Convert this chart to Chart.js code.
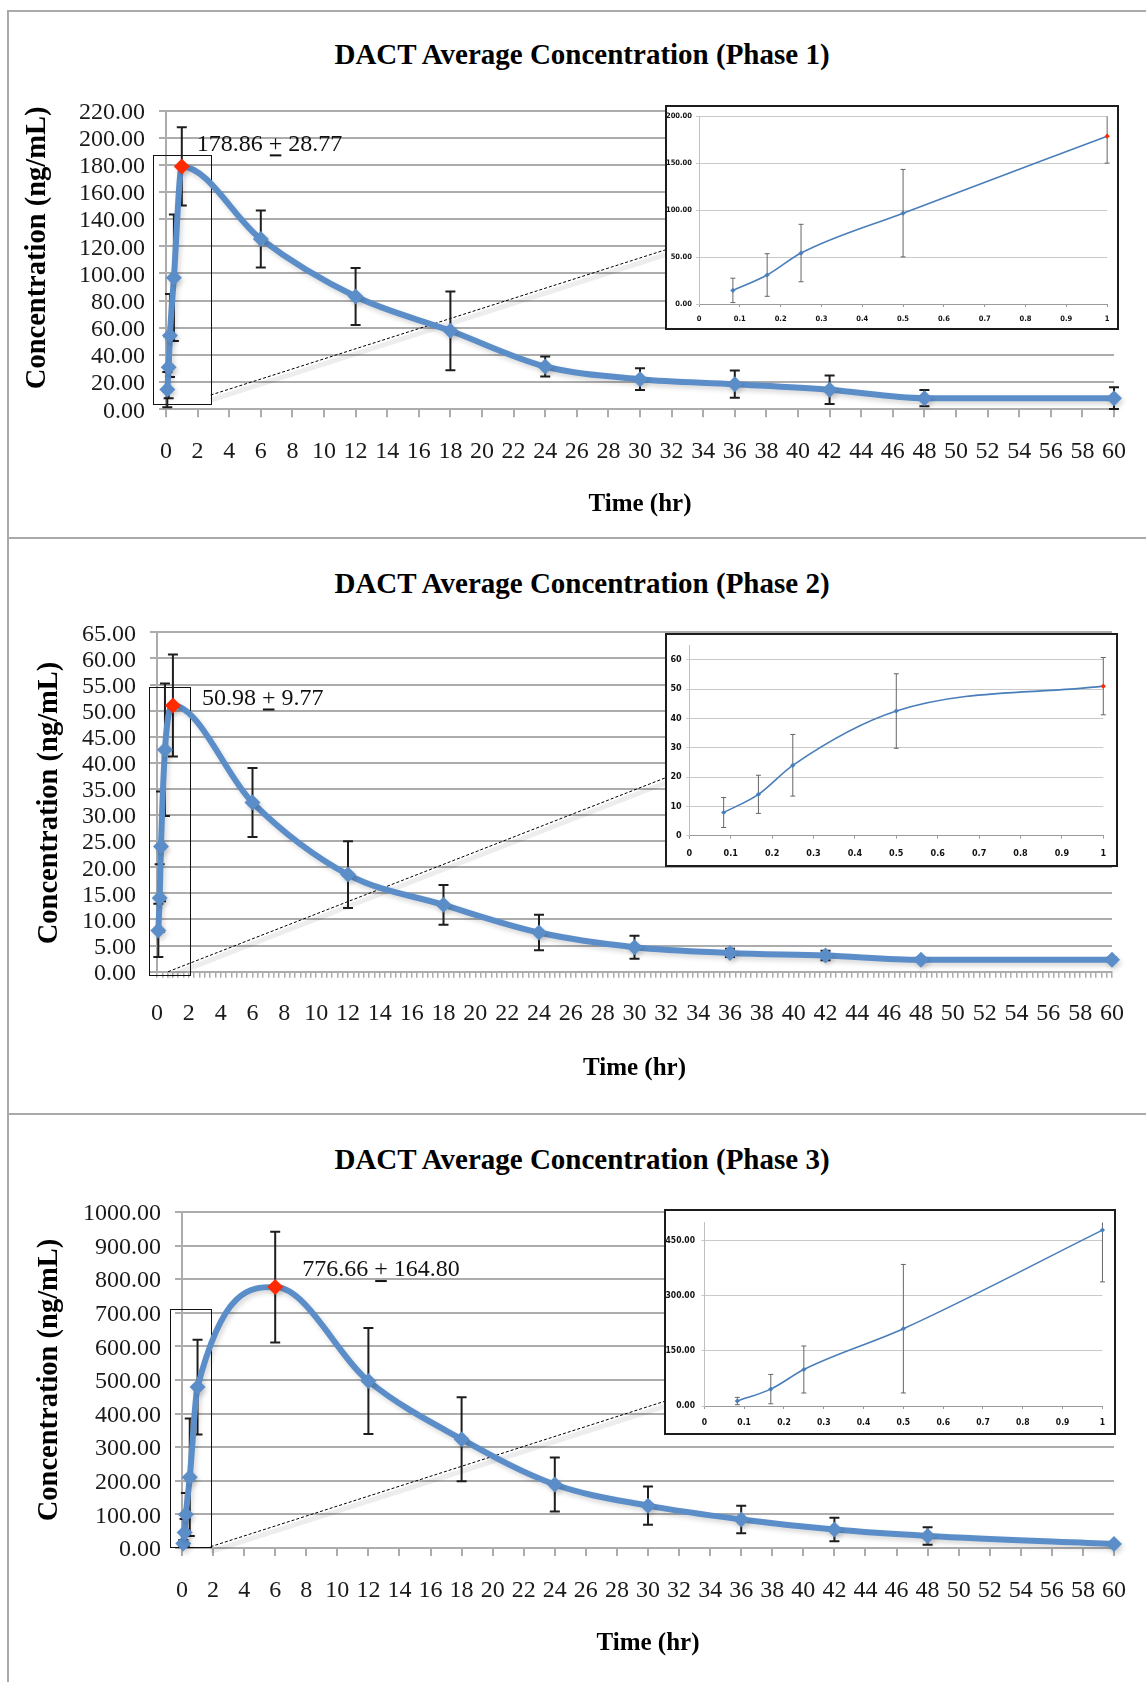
<!DOCTYPE html>
<html>
<head>
<meta charset="utf-8">
<script src="https://cdn.jsdelivr.net/npm/chart.js@4.4.0/dist/chart.umd.min.js"></script>
<style>
  html, body { margin: 0; padding: 0; background: #fff; }
  #page { position: relative; width: 1146px; height: 1682px; overflow: hidden; }
  .rule { position: absolute; background: #aaaaaa; }
  .title { position: absolute; left: 282px; width: 600px; text-align: center;
           font: bold 29px "Liberation Serif", serif; line-height: 34px; color: #000; }
  .main { position: absolute; left: 0; }
  .inset { position: absolute; box-sizing: border-box; border: 2px solid #1c1c1c; background: #fff; }
  .inset canvas { display: block; }
</style>
</head>
<body>
<div id="page">
  <div class="rule" style="left:7px;top:10px;width:1139px;height:2px"></div>
  <div class="rule" style="left:7px;top:10px;width:2px;height:1672px"></div>
  <div class="rule" style="left:7px;top:537px;width:1139px;height:2px"></div>
  <div class="rule" style="left:7px;top:1113px;width:1139px;height:2px"></div>

  <div class="title" style="top:37px">DACT Average Concentration (Phase 1)</div>
  <div class="title" style="top:566px">DACT Average Concentration (Phase 2)</div>
  <div class="title" style="top:1142px">DACT Average Concentration (Phase 3)</div>

  <canvas id="main1" class="main" width="1146" height="460" style="top:70px"></canvas>
  <canvas id="main2" class="main" width="1146" height="495" style="top:600px"></canvas>
  <canvas id="main3" class="main" width="1146" height="490" style="top:1180px"></canvas>

  <div class="inset" id="box1" style="left:665px;top:105px;width:454px;height:225px"><canvas id="inset1" width="450" height="221"></canvas></div>
  <div class="inset" id="box2" style="left:665px;top:633px;width:453px;height:234px"><canvas id="inset2" width="449" height="230"></canvas></div>
  <div class="inset" id="box3" style="left:664px;top:1209px;width:452px;height:226px"><canvas id="inset3" width="448" height="222"></canvas></div>
</div>

<script>
// sampling times (hr)
const times = [0.083, 0.167, 0.25, 0.5, 1, 6, 12, 18, 24, 30, 36, 42, 48, 60];

// mean concentration and SD (ng/mL)
const phase1Mean = [14.5, 30.9, 54.3, 96.8, 178.86, 125.4, 83.0, 57.8, 31.5, 22.2, 18.5, 14.4, 8.2, 8.2];
const phase1Sd   = [13.0, 22.7, 30.6, 46.6, 28.77, 21.0, 21.0, 29.0, 7.4, 8.0, 10.0, 10.5, 6.0, 8.0];

const phase2Mean = [7.9, 14.1, 24.0, 42.5, 50.98, 32.4, 18.6, 12.8, 7.5, 4.7, 3.6, 3.1, 2.3, 2.3];
const phase2Sd   = [5.1, 6.5, 10.5, 12.7, 9.77, 6.6, 6.4, 3.8, 3.4, 2.2, 0.8, 0.9, 0.4, 0.4];

const phase3Mean = [13.6, 46, 99.4, 210.5, 479, 776.66, 497, 324, 189, 126, 85, 55, 36, 12];
const phase3Sd   = [10, 40, 64, 175, 141, 164.80, 158, 125, 80, 57, 41, 35, 26, 0];

const BLUE = '#5b8ec9';
const RED = '#ff2a00';
const GRID = '#acacac';
const SERIF = '"Liberation Serif", serif';
const SANS = '"Liberation Sans Narrow", "DejaVu Sans Condensed", "Liberation Sans", sans-serif';

function errorBars(sd, opts) {
  return {
    id: 'errorBars',
    beforeDatasetsDraw(chart) {
      const { ctx, chartArea } = chart;
      const ys = chart.scales.y;
      const meta = chart.getDatasetMeta(0);
      const data = chart.data.datasets[0].data;
      ctx.save();
      if (opts.clip) {
        ctx.beginPath();
        ctx.rect(chartArea.left - 10, chartArea.top, chartArea.width + 20, chartArea.height);
        ctx.clip();
      }
      ctx.strokeStyle = opts.color;
      ctx.lineWidth = opts.width;
      meta.data.forEach((pt, i) => {
        if (!sd[i]) return;
        const top = ys.getPixelForValue(data[i].y + sd[i]);
        const bot = ys.getPixelForValue(data[i].y - sd[i]);
        ctx.beginPath();
        ctx.moveTo(pt.x, top); ctx.lineTo(pt.x, bot);
        ctx.moveTo(pt.x - opts.cap, top); ctx.lineTo(pt.x + opts.cap, top);
        ctx.moveTo(pt.x - opts.cap, bot); ctx.lineTo(pt.x + opts.cap, bot);
        ctx.stroke();
      });
      ctx.restore();
    }
  };
}

function lineShadow() {
  return {
    id: 'lineShadow',
    beforeDatasetDraw(chart) {
      const ctx = chart.ctx;
      ctx.save();
      ctx.shadowColor = 'rgba(0,0,0,0.16)';
      ctx.shadowBlur = 5;
      ctx.shadowOffsetX = 2;
      ctx.shadowOffsetY = 3;
    },
    afterDatasetDraw(chart) {
      chart.ctx.restore();
    }
  };
}

// rotated y-axis title, centred on the plot with a small vertical nudge
function yTitle(text, cx, shift) {
  return {
    id: 'yTitle',
    afterDraw(chart) {
      const { ctx, chartArea } = chart;
      ctx.save();
      ctx.translate(cx, (chartArea.top + chartArea.bottom) / 2 + shift);
      ctx.rotate(-Math.PI / 2);
      ctx.font = 'bold 28.5px ' + SERIF;
      ctx.fillStyle = '#000';
      ctx.textAlign = 'center';
      ctx.textBaseline = 'middle';
      ctx.fillText(text, 0, 0);
      ctx.restore();
    }
  };
}

// zoom rectangle around the first hour plus the dashed connector to the inset
function zoomGuide(g) {
  return {
    id: 'zoomGuide',
    beforeDatasetsDraw(chart) {
      const { ctx, scales: { x, y } } = chart;
      const l = x.getPixelForValue(g.box[0]), r = x.getPixelForValue(g.box[1]);
      const b = y.getPixelForValue(g.box[2]), t = y.getPixelForValue(g.box[3]);
      ctx.save();
      ctx.strokeStyle = '#111';
      ctx.lineWidth = 1;
      ctx.strokeRect(Math.round(l) + 0.5, Math.round(t) + 0.5, Math.round(r - l), Math.round(b - t));

      const inset = document.getElementById(g.inset);
      const ex = inset.offsetLeft - chart.canvas.offsetLeft;
      const ey = y.getPixelForValue(g.endY);
      const sx = x.getPixelForValue(g.start[0]), sy = y.getPixelForValue(g.start[1]);
      ctx.strokeStyle = 'rgba(0,0,0,0.07)';
      ctx.lineWidth = 5;
      ctx.beginPath(); ctx.moveTo(sx, sy + 5); ctx.lineTo(ex, ey + 5); ctx.stroke();
      ctx.setLineDash([3, 2]);
      ctx.strokeStyle = '#000';
      ctx.lineWidth = 1;
      ctx.beginPath(); ctx.moveTo(sx, sy); ctx.lineTo(ex, ey); ctx.stroke();
      ctx.restore();
    }
  };
}

function peakLabel(mean, sd, dx, dy) {
  return {
    id: 'peakLabel',
    afterDatasetsDraw(chart) {
      const i = mean.indexOf(Math.max(...mean));
      const pt = chart.getDatasetMeta(0).data[i];
      const ctx = chart.ctx;
      ctx.save();
      ctx.font = '24px ' + SERIF;
      ctx.fillStyle = '#111';
      ctx.textBaseline = 'middle';
      const a = mean[i].toFixed(2) + ' ', p = '+', c = ' ' + sd[i].toFixed(2);
      let x = pt.x + dx;
      const y = pt.y + dy;
      ctx.fillText(a, x, y);
      x += ctx.measureText(a).width;
      const pw = ctx.measureText(p).width;
      ctx.fillText(p, x, y);
      ctx.fillRect(x + 1, y + 10, pw - 2, 2);
      x += pw;
      ctx.fillText(c, x, y);
      ctx.restore();
    }
  };
}

function mainChart(id, mean, sd, c) {
  const peak = mean.indexOf(Math.max(...mean));
  const colors = mean.map((v, i) => i === peak ? RED : BLUE);
  const xTicks = {
    font: { family: SERIF, size: 24 }, color: '#1a1a1a',
    padding: c.minor ? 22 : 20, maxRotation: 0, minRotation: 0, autoSkip: false
  };
  if (c.minor) {
    xTicks.callback = v => Math.abs(v / 2 - Math.round(v / 2)) < 1e-6 ? String(Math.round(v)) : '';
  } else {
    xTicks.stepSize = 2;
  }
  return new Chart(document.getElementById(id), {
    type: 'line',
    data: {
      datasets: [{
        data: times.map((t, i) => ({ x: t, y: mean[i] })),
        borderColor: BLUE,
        borderWidth: 6,
        pointStyle: 'rectRot',
        pointRadius: 8,
        pointBackgroundColor: colors,
        pointBorderColor: colors,
        pointBorderWidth: 0,
        cubicInterpolationMode: 'monotone',
        clip: false
      }]
    },
    options: {
      responsive: false,
      animation: false,
      events: [],
      layout: { padding: { left: 0, right: c.padRight, top: c.padTop, bottom: 0 } },
      plugins: { legend: { display: false }, tooltip: { enabled: false } },
      scales: {
        x: {
          type: 'linear', min: 0, max: 60,
          afterBuildTicks: c.minor ? (s => { s.ticks = Array.from({ length: 181 }, (_, k) => ({ value: k / 3 })); }) : undefined,
          afterFit: s => { s.height = c.xHeight; },
          ticks: xTicks,
          grid: { drawOnChartArea: false, drawTicks: true, tickLength: c.minor ? 6 : 8, color: GRID, lineWidth: c.minor ? 1.5 : 2 },
          border: { display: true, color: GRID, width: 2 },
          title: {
            display: true, text: 'Time (hr)', color: '#000',
            font: { family: SERIF, size: 25, weight: 'bold' },
            padding: { top: 0, bottom: c.xTitlePad }
          }
        },
        y: {
          min: 0, max: c.yMax,
          afterFit: s => { s.width = c.yWidth; },
          ticks: {
            stepSize: c.yStep, autoSkip: false, font: { family: SERIF, size: 24 }, color: '#1a1a1a', padding: 14,
            labelOffset: 2,
            callback: v => v.toFixed(2)
          },
          grid: { color: GRID, lineWidth: 2, tickLength: 7 },
          border: { display: true, color: GRID, width: 2 }
        }
      }
    },
    plugins: [
      zoomGuide(c.guide),
      errorBars(sd, { color: '#1e1e1e', width: 2, cap: 5, clip: false }),
      lineShadow(),
      peakLabel(mean, sd, c.labelDx, c.labelDy),
      yTitle('Concentration (ng/mL)', c.yTitleX, c.yTitleShift)
    ]
  });
}

function insetChart(id, mean, sd, c) {
  const n = times.filter(t => t <= 1).length;
  const peak = mean.indexOf(Math.max(...mean));
  const colors = mean.slice(0, n).map((v, i) => i === peak ? RED : '#4a7ebb');
  return new Chart(document.getElementById(id), {
    type: 'line',
    data: {
      datasets: [{
        data: times.slice(0, n).map((t, i) => ({ x: t, y: mean[i] })),
        borderColor: '#4a7ebb',
        borderWidth: 1.6,
        pointStyle: 'rectRot',
        pointRadius: 2.6,
        pointBackgroundColor: colors,
        pointBorderColor: colors,
        pointBorderWidth: 0,
        cubicInterpolationMode: 'monotone',
        clip: false
      }]
    },
    options: {
      responsive: false,
      animation: false,
      events: [],
      layout: { padding: { left: 0, right: c.padRight, top: c.padTop, bottom: 0 } },
      plugins: { legend: { display: false }, tooltip: { enabled: false } },
      scales: {
        x: {
          type: 'linear', min: 0, max: 1,
          afterFit: s => { s.height = c.xHeight; },
          ticks: {
            stepSize: 0.1, font: { family: SANS, size: c.font, weight: 'bold' }, color: '#111', padding: c.xPad,
            maxRotation: 0, autoSkip: false,
            callback: v => String(Number(v.toFixed(1)))
          },
          grid: { drawOnChartArea: false, tickLength: 3, color: '#9a9a9a', lineWidth: 1 },
          border: { display: true, color: '#9a9a9a', width: 1 }
        },
        y: {
          min: 0, max: c.yMax,
          afterFit: s => { s.width = c.yWidth; },
          afterBuildTicks: s => { s.ticks = s.ticks.filter(t => t.value % c.yStep === 0); },
          ticks: {
            stepSize: c.yStep, autoSkip: false, font: { family: SANS, size: c.font, weight: 'bold' }, color: '#111', padding: c.yPad,
            callback: v => c.decimals ? v.toFixed(2) : String(v)
          },
          grid: { color: '#c9c9c9', lineWidth: 1, tickLength: 3 },
          border: { display: true, color: '#c0c0c0', width: 1 }
        }
      }
    },
    plugins: [errorBars(sd, { color: '#666', width: 1, cap: 2.5, clip: true })]
  });
}

mainChart('main1', phase1Mean, phase1Sd, {
  padTop: 40.5, padRight: 32, xHeight: 120.7, yWidth: 166, yMax: 220, yStep: 20,
  xTitlePad: 10, yTitleX: 37.6, yTitleShift: -12, labelDx: 15, labelDy: -22,
  guide: { box: [-0.82, 2.83, 3.9, 187.3], start: [2.83, 10.5], endY: 117.3, inset: 'box1' }
});
mainChart('main2', phase2Mean, phase2Sd, {
  padTop: 32.3, padRight: 27, xHeight: 123.3, yWidth: 157, yMax: 65, yStep: 5, minor: true,
  xTitlePad: 11.3, yTitleX: 49.4, yTitleShift: 1, labelDx: 29, labelDy: -7,
  guide: { box: [-0.48, 2.1, -0.6, 54.5], start: [0.7, 0], endY: 37.1, inset: 'box2' }
});
mainChart('main3', phase3Mean, phase3Sd, {
  padTop: 32, padRight: 27, xHeight: 122, yWidth: 182, yMax: 1000, yStep: 100,
  xTitlePad: 11, yTitleX: 49.4, yTitleShift: 0, labelDx: 27, labelDy: -17,
  guide: { box: [-0.79, 1.84, 3.9, 711], start: [1.84, 3.9], endY: 436, inset: 'box3' }
});

insetChart('inset1', phase1Mean, phase1Sd, {
  padTop: 9.3, padRight: 7, xHeight: 24, yWidth: 32, yMax: 200, yStep: 50,
  font: 7.5, xPad: 7.5, yPad: 4, decimals: true
});
insetChart('inset2', phase2Mean, phase2Sd, {
  padTop: 10, padRight: 6.7, xHeight: 29.3, yWidth: 22.3, yMax: 65, yStep: 10,
  font: 9, xPad: 9.9, yPad: 4.6, decimals: false
});
insetChart('inset3', phase3Mean, phase3Sd, {
  padTop: 10.7, padRight: 6.7, xHeight: 27, yWidth: 38.3, yMax: 500, yStep: 150,
  font: 8.5, xPad: 8.9, yPad: 6.3, decimals: true
});
</script>
</body>
</html>
